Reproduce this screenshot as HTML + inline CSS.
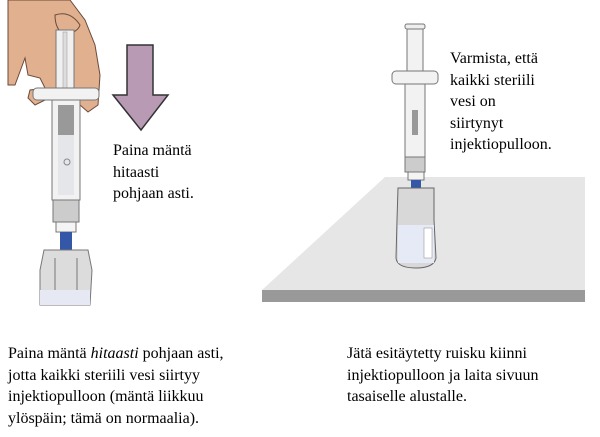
<!DOCTYPE html>
<html><head><meta charset="utf-8"><style>
body{margin:0;width:600px;height:437px;background:#fff;position:relative;overflow:hidden;color:#000}
.t{position:absolute;line-height:21.5px;white-space:nowrap;font-family:"Liberation Serif","Times New Roman","DejaVu Serif",serif;font-size:16px}
svg{position:absolute;left:0;top:0}
</style></head><body>
<svg width="600" height="437" viewBox="0 0 600 437">
<polygon points="385,177 585,177 585,290 262,290" fill="#e6e6e6"/>
<rect x="262" y="290" width="323" height="12" fill="#999"/>
<path d="M8,0 L70,0 L85,20 L95,45 L100,75 L98,105 L88,112 L80,105 L78,95 L45,100 L35,105 L28,98 L30,90 L45,88 L40,78 L28,75 L25,58 L15,85 L8,85 Z" fill="#e0b08f" stroke="#6b4a3a" stroke-width="1"/>
<path d="M55,15 Q70,10 80,25 Q78,32 65,35 Q55,30 55,15Z" fill="#e0b08f" stroke="#6b4a3a" stroke-width="1"/>
<rect x="56" y="30" width="18" height="70" fill="#f0f0f0" stroke="#777"/>
<rect x="63" y="32" width="4" height="66" fill="#ddd" stroke="#999" stroke-width=".5"/>
<rect x="33" y="88" width="66" height="12" rx="4" fill="#f2f2f2" stroke="#777"/>
<rect x="52" y="100" width="28" height="100" fill="#f2f2f2" stroke="#777"/>
<rect x="58" y="105" width="16" height="30" fill="#999"/>
<rect x="58" y="135" width="16" height="60" fill="#e4e6ea"/>
<circle cx="67" cy="162" r="3" fill="none" stroke="#888"/>
<rect x="53" y="200" width="26" height="22" fill="#ccc" stroke="#777"/>
<rect x="56" y="222" width="20" height="10" fill="#f4f4f4" stroke="#777"/>
<rect x="60" y="232" width="12" height="20" fill="#3557a8"/>
<path d="M44,250 L88,250 L92,270 L90,305 L40,305 L40,270 Z" fill="#dcdcdc" stroke="#777"/>
<rect x="40" y="290" width="50" height="15" fill="#e6e9f4"/>
<line x1="55" y1="258" x2="55" y2="290" stroke="#777"/><line x1="77" y1="258" x2="77" y2="290" stroke="#777"/>
<polygon points="127,45 153,45 153,95 168,95 141,130 113,95 127,95" fill="#b99ab5" stroke="#333" stroke-width="1.5"/>
<rect x="405" y="24" width="20" height="5" rx="2" fill="#eee" stroke="#777"/>
<rect x="407" y="29" width="16" height="45" fill="#f2f2f2" stroke="#777"/>
<rect x="392" y="71" width="46" height="13" rx="4" fill="#f2f2f2" stroke="#777"/>
<rect x="405" y="84" width="20" height="73" fill="#f2f2f2" stroke="#777"/>
<rect x="412" y="110" width="6" height="25" fill="#999"/>
<rect x="405" y="157" width="20" height="15" fill="#ccc" stroke="#777"/>
<rect x="408" y="172" width="16" height="8" fill="#f4f4f4" stroke="#777"/>
<rect x="411" y="180" width="10" height="12" fill="#3557a8"/>
<path d="M398,188 L434,188 L434,220 L436,258 Q434,268 416,268 Q397,268 396,258 L397,220 Z" fill="#d8d8d8" stroke="#666"/>
<rect x="398" y="225" width="36" height="38" fill="#e6e9f6"/>
<rect x="424" y="228" width="8" height="30" fill="#fff" stroke="#888" stroke-width=".5"/>
</svg>
<div class="t" style="left:113px;top:140px">Paina mäntä<br>hitaasti<br>pohjaan asti.</div>
<div class="t" style="left:450px;top:48px">Varmista, että<br>kaikki steriili<br>vesi on<br>siirtynyt<br>injektiopulloon.</div>
<div class="t" style="left:8px;top:343px">Paina mäntä <i>hitaasti</i> pohjaan asti,<br>jotta kaikki steriili vesi siirtyy<br>injektiopulloon (mäntä liikkuu<br>ylöspäin; tämä on normaalia).</div>
<div class="t" style="left:347px;top:343px">Jätä esitäytetty ruisku kiinni<br>injektiopulloon ja laita sivuun<br>tasaiselle alustalle.</div>
</body></html>
